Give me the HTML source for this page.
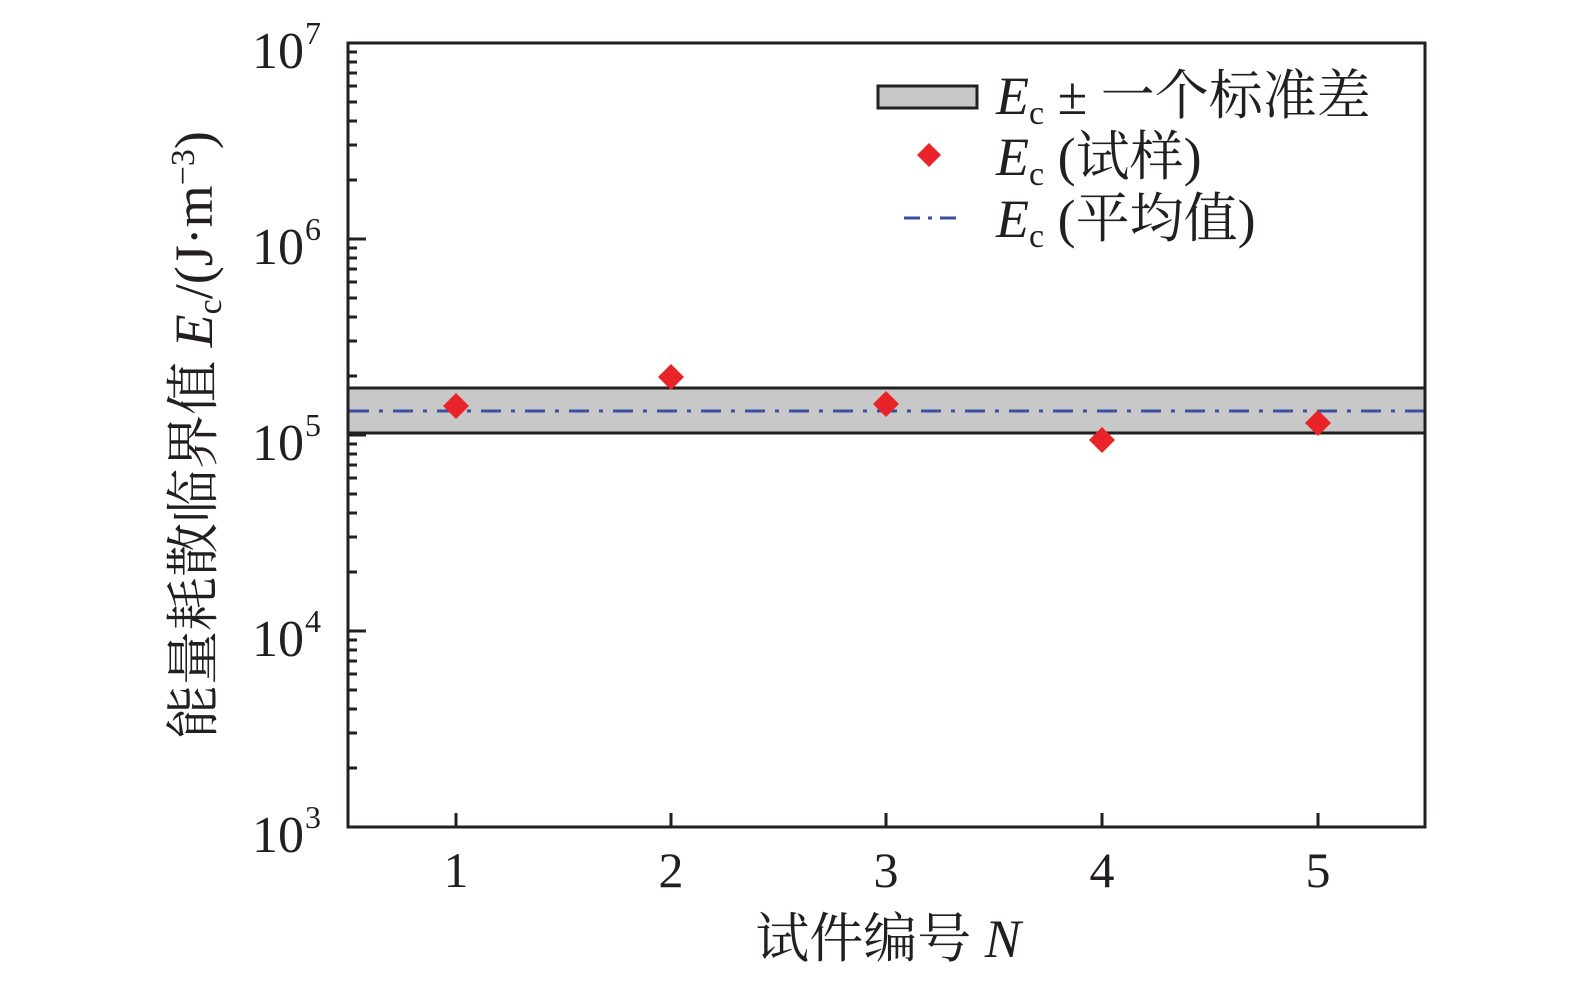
<!DOCTYPE html>
<html><head><meta charset="utf-8"><style>
body{margin:0;background:#fff}
svg text{font-family:"Liberation Serif","Noto Serif CJK SC","Noto Sans CJK SC",serif;fill:#231f20}
</style></head><body>
<svg width="1575" height="976" viewBox="0 0 1575 976" xmlns="http://www.w3.org/2000/svg">
<rect x="348" y="388" width="1077" height="45" fill="#c8c8c8" stroke="#231f20" stroke-width="3"/>
<line x1="349" y1="411" x2="1424" y2="411" stroke="#3a4fa0" stroke-width="3" stroke-dasharray="20 10 4 10"/>
<g fill="#e8242a">
<polygon points="456,393 469,406 456,419 443,406"/>
<polygon points="671,364 684,377 671,390 658,377"/>
<polygon points="886,391 899,404 886,417 873,404"/>
<polygon points="1102,427 1115,440 1102,453 1089,440"/>
<polygon points="1318,410 1331,423 1318,436 1305,423"/>
</g>
<rect x="348" y="43" width="1077" height="784" fill="none" stroke="#231f20" stroke-width="3"/>
<g stroke="#231f20" stroke-width="3">
<line x1="348" y1="827" x2="366" y2="827"/><line x1="348" y1="631" x2="366" y2="631"/><line x1="348" y1="435" x2="366" y2="435"/><line x1="348" y1="239" x2="366" y2="239"/><line x1="348" y1="43" x2="366" y2="43"/>
<path d="M348 768h9M348 733h9M348 709h9M348 690h9M348 674h9M348 661h9M348 650h9M348 640h9
M348 572h9M348 537h9M348 513h9M348 494h9M348 478h9M348 465h9M348 454h9M348 444h9
M348 376h9M348 341h9M348 317h9M348 298h9M348 282h9M348 269h9M348 258h9M348 248h9
M348 180h9M348 145h9M348 121h9M348 102h9M348 86h9M348 73h9M348 62h9M348 52h9"/>
<path d="M456 827v-14M671 827v-14M886 827v-14M1102 827v-14M1318 827v-14"/>
</g>
<g font-size="52" text-anchor="end">
<text x="304" y="852">10</text><text x="304" y="656">10</text><text x="304" y="460">10</text><text x="304" y="264">10</text><text x="304" y="68">10</text>
</g>
<g font-size="32">
<text x="305" y="828">3</text><text x="305" y="632">4</text><text x="305" y="436">5</text><text x="305" y="240">6</text><text x="305" y="44">7</text>
</g>
<g font-size="50" text-anchor="middle">
<text x="456" y="887">1</text><text x="671" y="887">2</text><text x="886" y="887">3</text><text x="1102" y="887">4</text><text x="1318" y="887">5</text>
</g>
<text x="888" y="957" font-size="54" text-anchor="middle">试件编号 <tspan font-style="italic">N</tspan></text>
<text transform="translate(212,435) rotate(-90)" font-size="54" text-anchor="middle">能量耗散临界值 <tspan font-style="italic">E</tspan><tspan font-size="34" dy="9">c</tspan><tspan dy="-9">/(J·m</tspan><tspan font-size="34" dy="-18">−3</tspan><tspan dy="18">)</tspan></text>
<rect x="878" y="86" width="99" height="22" fill="#c8c8c8" stroke="#231f20" stroke-width="3"/>
<polygon points="929,143 941,155 929,167 917,155" fill="#e8242a"/>
<line x1="904" y1="218" x2="958" y2="218" stroke="#3a4fa0" stroke-width="3" stroke-dasharray="16 8 4 8"/>
<g font-size="54">
<text x="996" y="114"><tspan font-style="italic">E</tspan><tspan font-size="34" dy="10">c</tspan><tspan dy="-10"> ± 一个标准差</tspan></text>
<text x="996" y="175"><tspan font-style="italic">E</tspan><tspan font-size="34" dy="10">c</tspan><tspan dy="-10"> (试样)</tspan></text>
<text x="996" y="237"><tspan font-style="italic">E</tspan><tspan font-size="34" dy="10">c</tspan><tspan dy="-10"> (平均值)</tspan></text>
</g>
</svg>
</body></html>
